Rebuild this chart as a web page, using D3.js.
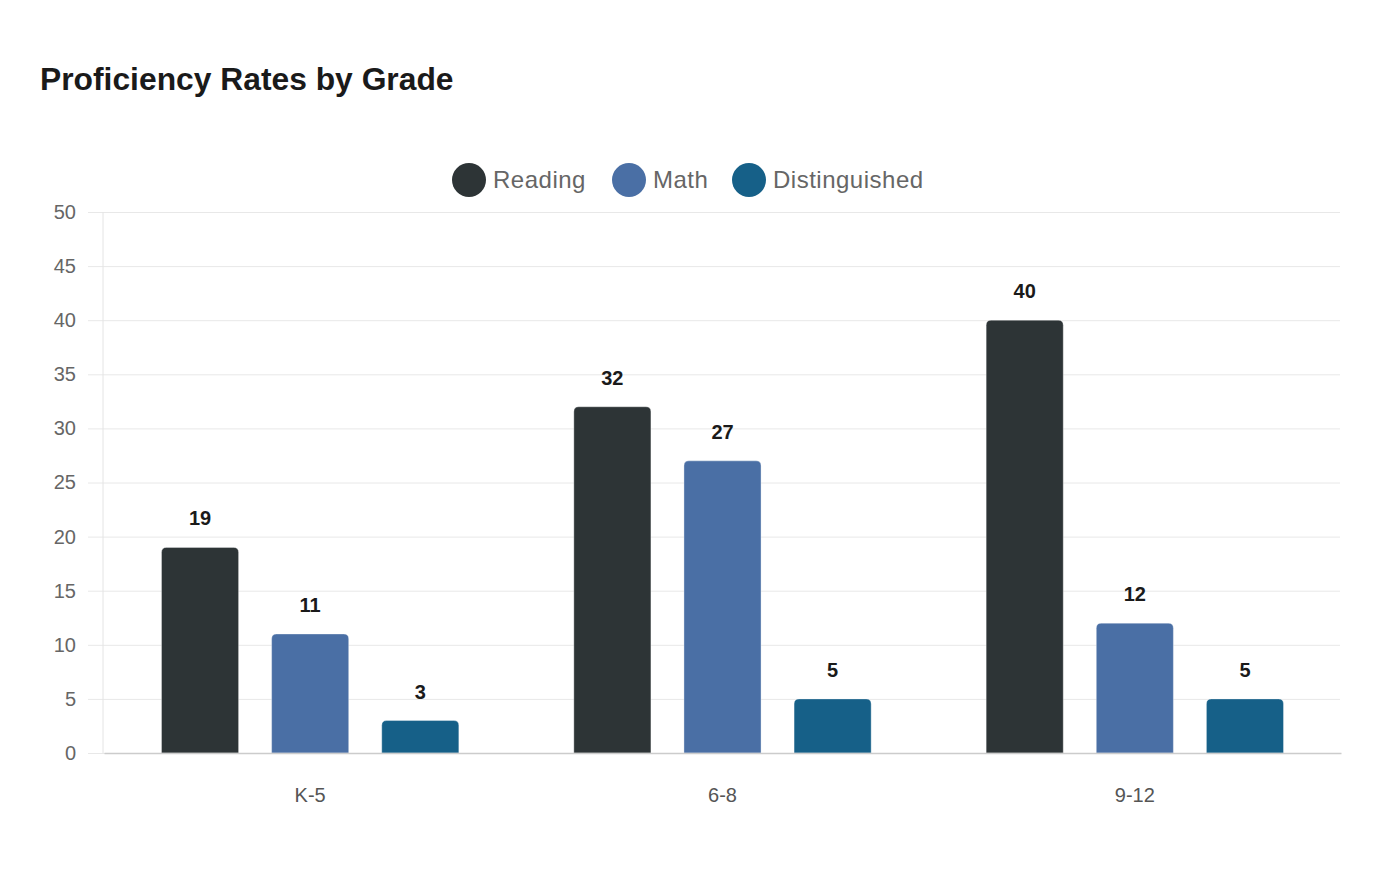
<!DOCTYPE html>
<html>
<head>
<meta charset="utf-8">
<script src="https://cdn.jsdelivr.net/npm/d3@7"></script>
<style>
  body { margin: 0; background: #fff; }
  svg { font-family: 'Liberation Sans', Arial, sans-serif; }
</style>
</head>
<body>
<div id="chart-container"></div>
<script>
// proficiency rates grouped bar chart
const grades = ['K-5', '6-8', '9-12'];
const seriesNames = ['Reading', 'Math', 'Distinguished'];
const reading = [19, 32, 40];
const math = [11, 27, 12];
const distinguished = [3, 5, 5];
const yTicks = [0, 5, 10, 15, 20, 25, 30, 35, 40, 45, 50];
const colors = ['#2d3436', '#4a6fa5', '#166088'];

const seriesValues = [reading, math, distinguished];

const svgWidth = 1400;
const svgHeight = 880;
const margin = { left: 103, right: 60, top: 212, bottom: 127 };

const svg = d3
  .select('#chart-container')
  .append('svg')
  .attr('width', svgWidth)
  .attr('height', svgHeight);

// title
svg
  .append('text')
  .attr('x', 40)
  .attr('y', 90)
  .attr('font-size', '31.8px')
  .attr('font-weight', 'bold')
  .attr('fill', '#1a1a1a')
  .text('Proficiency Rates by Grade');

const xScale = d3
  .scaleBand()
  .domain(grades)
  .range([margin.left + 1, svgWidth - margin.right + 1]);

const innerScale = d3
  .scaleBand()
  .domain(seriesNames)
  .range([57.5, xScale.bandwidth() - 57.5])
  .paddingInner(0.3)
  .paddingOuter(0);

const yScale = d3
  .scaleLinear()
  .domain([0, 50])
  .range([svgHeight - margin.bottom, margin.top]);

// grid lines + y labels
const yAxis = d3
  .axisLeft(yScale)
  .tickValues(yTicks)
  .tickSize(-(svgWidth - margin.right - margin.left + 15))
  .tickPadding(12);
const yG = svg
  .append('g')
  .attr('transform', 'translate(' + (margin.left - 15) + ',0)')
  .call(yAxis);
yG.select('.domain').remove();
yG.selectAll('.tick line').attr('stroke', '#e8e8e8').attr('stroke-width', 1);
yG.selectAll('.tick text')
  .attr('fill', '#666')
  .style('font-size', '20px')
  .style('font-family', 'Liberation Sans, Arial, sans-serif');

// y axis line
svg
  .append('line')
  .attr('x1', margin.left)
  .attr('x2', margin.left)
  .attr('y1', yScale(50))
  .attr('y2', yScale(0))
  .attr('stroke', '#e4e4e4');

// bars
function topRounded(x, y, w, h, r) {
  r = Math.min(r, h);
  return 'M' + x + ',' + (y + h) +
    'V' + (y + r) +
    'Q' + x + ',' + y + ' ' + (x + r) + ',' + y +
    'H' + (x + w - r) +
    'Q' + (x + w) + ',' + y + ' ' + (x + w) + ',' + (y + r) +
    'V' + (y + h) + 'Z';
}

const barData = [];
grades.forEach(function (g, gi) {
  seriesNames.forEach(function (s, si) {
    barData.push({ grade: g, series: s, value: seriesValues[si][gi], color: colors[si] });
  });
});

svg
  .selectAll('.bar')
  .data(barData)
  .enter()
  .append('path')
  .attr('class', 'bar')
  .attr('d', function (d) {
    const x = xScale(d.grade) + innerScale(d.series);
    const y = yScale(d.value);
    return topRounded(x, y, innerScale.bandwidth(), yScale(0) - y, 5);
  })
  .attr('fill', function (d) { return d.color; })
  .attr('stroke', 'rgba(255,255,255,0.35)')
  .attr('stroke-width', 1);

// value labels
svg
  .selectAll('.label')
  .data(barData)
  .enter()
  .append('text')
  .attr('class', 'label')
  .attr('x', function (d) { return xScale(d.grade) + innerScale(d.series) + innerScale.bandwidth() / 2; })
  .attr('y', function (d) { return yScale(d.value) - 22; })
  .attr('text-anchor', 'middle')
  .attr('font-size', '20px')
  .attr('font-weight', 'bold')
  .attr('fill', '#1a1a1a')
  .text(function (d) { return d.value; });

// x axis
const xAxis = d3.axisBottom(xScale).tickSize(0).tickPadding(35);
const xG = svg
  .append('g')
  .attr('transform', 'translate(0,' + yScale(0) + ')')
  .call(xAxis);
xG.select('.domain').attr('stroke', '#cccccc').attr('stroke-width', 1.5);
xG.selectAll('text')
  .attr('fill', '#555')
  .style('font-size', '20px')
  .style('font-family', 'Liberation Sans, Arial, sans-serif');

// legend
const legendX = [469, 629, 749];
const legend = svg
  .selectAll('.legend')
  .data(seriesNames)
  .enter()
  .append('g')
  .attr('class', 'legend')
  .attr('transform', function (d, i) { return 'translate(' + legendX[i] + ',180)'; });
legend
  .append('circle')
  .attr('r', 17)
  .attr('fill', function (d, i) { return colors[i]; });
legend
  .append('text')
  .attr('x', 24)
  .attr('dy', '0.35em')
  .attr('font-size', '24px')
  .attr('letter-spacing', '0.5px')
  .attr('fill', '#666')
  .text(function (d) { return d; });
</script>
</body>
</html>
